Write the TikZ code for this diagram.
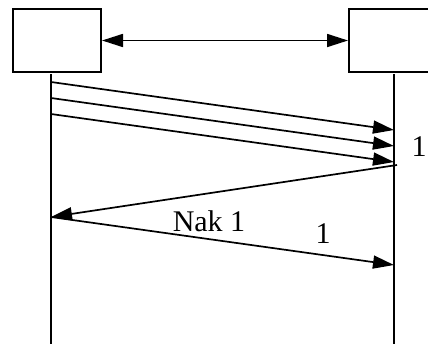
\documentclass[tikz,border=0pt]{standalone}
\usepackage{fontspec}
\setmainfont{Liberation Serif}
\usetikzlibrary{arrows.meta}
\begin{document}
\begin{tikzpicture}[x=1pt,y=-1pt,
  ent/.style={draw,line width=2pt,minimum width=88pt,minimum height=63pt,inner sep=0pt,anchor=north west},
  ln/.style={line width=1.7pt},
  arr/.style={ln,-{Triangle[length=21pt,width=13pt]}},
  lbl/.style={font=\fontsize{30}{30}\selectfont,inner sep=0pt}]
\useasboundingbox[clip] (0,0) rectangle (428,343);
\node[ent] (A) at (12,8) {};
\node[ent] (B) at (348,8) {};
\draw[ln,{Triangle[length=21pt,width=13pt]}-{Triangle[length=21pt,width=13pt]}] (A.east) -- (B.west);
% lifelines
\coordinate (la) at (51,74); \coordinate (lz) at (51,345);
\coordinate (ra) at (394,74); \coordinate (rz) at (394,345);
\draw[ln] (la) -- (lz);
\draw[ln] (ra) -- (rz);
% packets
\coordinate (s1) at (51,82); \coordinate (e1) at (394,130);
\coordinate (s2) at (51,98); \coordinate (e2) at (394,146);
\coordinate (s3) at (51,114); \coordinate (e3) at (394,162);
\draw[arr] (s1) -- (e1);
\draw[arr] (s2) -- (e2);
\draw[arr] (s3) -- (e3);
% nak
\coordinate (n0) at (397,165); \coordinate (n1) at (51,217);
\draw[arr] (n0) -- (n1);
\coordinate (r1) at (394,265);
\draw[arr] (n1) -- (r1);
\node[lbl] (l1) at (419,147) {1};
\node[lbl] (nak) at (209,221) {Nak 1};
\node[lbl] (l2) at (323,234) {1};
\end{tikzpicture}
\end{document}
